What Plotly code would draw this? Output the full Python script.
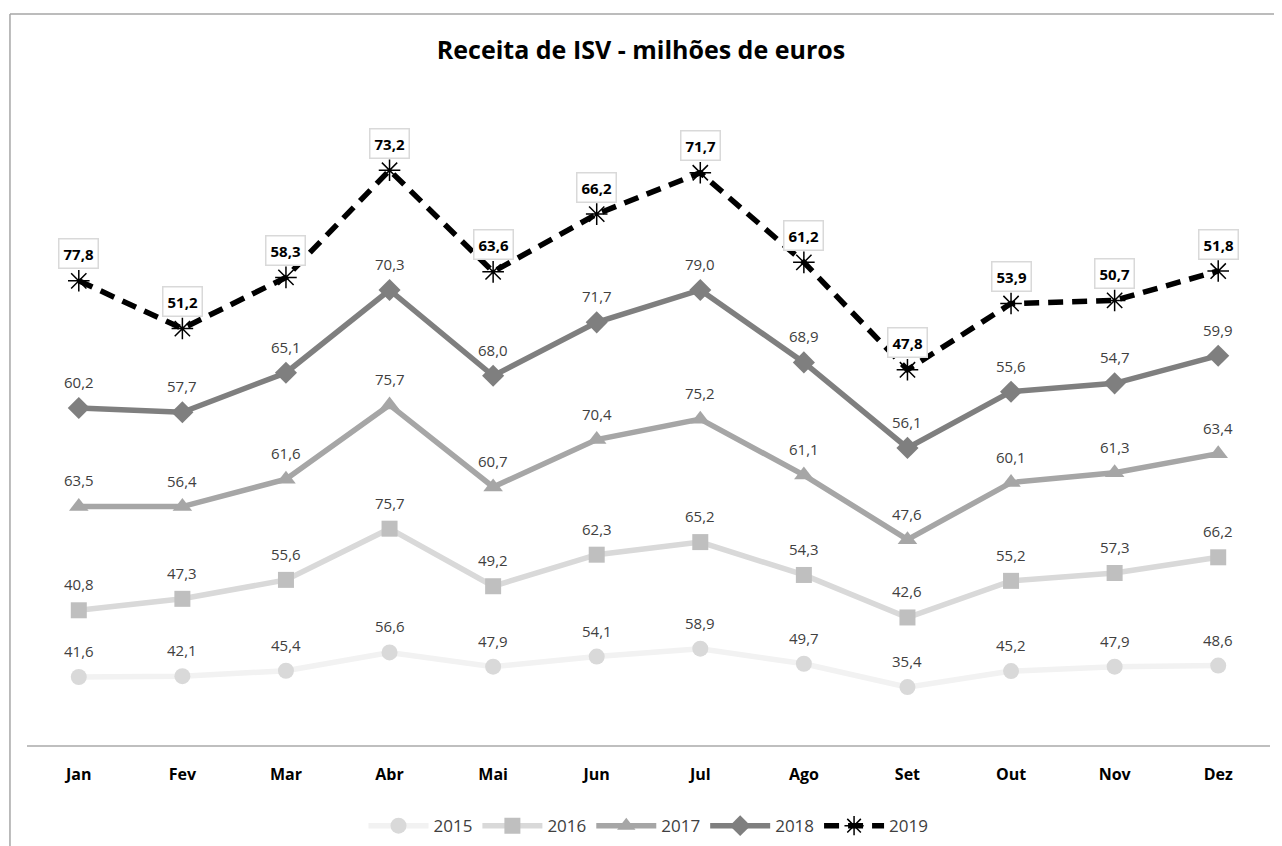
import numpy as np
import plotly.graph_objects as go

months = ["Jan", "Fev", "Mar", "Abr", "Mai", "Jun", "Jul", "Ago", "Set", "Out", "Nov", "Dez"]
v2015 = [41.6, 42.1, 45.4, 56.6, 47.9, 54.1, 58.9, 49.7, 35.4, 45.2, 47.9, 48.6]
v2016 = [40.8, 47.3, 55.6, 75.7, 49.2, 62.3, 65.2, 54.3, 42.6, 55.2, 57.3, 66.2]
v2017 = [63.5, 56.4, 61.6, 75.7, 60.7, 70.4, 75.2, 61.1, 47.6, 60.1, 61.3, 63.4]
v2018 = [60.2, 57.7, 65.1, 70.3, 68.0, 71.7, 79.0, 68.9, 56.1, 55.6, 54.7, 59.9]
v2019 = [77.8, 51.2, 58.3, 73.2, 63.6, 66.2, 71.7, 61.2, 47.8, 53.9, 50.7, 51.8]

series = [
    ("2015", v2015, dict(color="#f2f2f2", width=5.5), dict(symbol="circle", size=16, color="#d9d9d9")),
    ("2016", v2016, dict(color="#d9d9d9", width=5.5), dict(symbol="square", size=16, color="#bfbfbf")),
    ("2017", v2017, dict(color="#a6a6a6", width=5.5), dict(symbol="triangle-up", size=17, color="#a6a6a6")),
    ("2018", v2018, dict(color="#7f7f7f", width=5.5), dict(symbol="diamond", size=17, color="#7f7f7f")),
    ("2019", v2019, dict(color="#000000", width=5.5, dash="15px,9px"),
     dict(symbol="asterisk-open", size=18, color="#000000", line=dict(width=1.5, color="#000000"))),
]

FONT = "Open Sans, Noto Sans, sans-serif"
fmt = lambda v: f"{v:.1f}".replace(".", ",")

fig = go.Figure()
cum = np.zeros(len(months))
annotations = []
for name, vals, line, marker in series:
    fig.add_trace(go.Scatter(
        x=months, y=vals, name=name, mode="lines+markers",
        stackgroup="one", fill="none", line=line, marker=marker,
        hoverinfo="skip",
    ))
    cum = cum + np.array(vals)
    for m, c, v in zip(months, cum, vals):
        if name == "2019":
            annotations.append(dict(
                x=m, y=c, xref="x", yref="y", text=fmt(v), showarrow=False,
                yshift=27, font=dict(family=FONT, size=15, color="#000000", weight="bold"),
                bordercolor="#d9d9d9", borderwidth=1.5, borderpad=4, bgcolor="#ffffff",
            ))
        else:
            annotations.append(dict(
                x=m, y=c, xref="x", yref="y", text=fmt(v), showarrow=False,
                yshift=26, font=dict(family=FONT, size=15, color="#404040"),
            ))

fig.update_layout(
    width=1282, height=846,
    paper_bgcolor="white", plot_bgcolor="white",
    margin=dict(l=19, r=20, t=83, b=109, autoexpand=False),
    title=dict(text="Receita de ISV - milhões de euros", x=633 / 1282, xanchor="center",
               y=1 - 42 / 846, yanchor="middle",
               font=dict(family=FONT, size=25, color="#000000", weight="bold")),
    xaxis=dict(type="category", showgrid=False, showline=True, linecolor="#bfbfbf", linewidth=1.5,
               ticks="", tickfont=dict(family=FONT, size=16, color="#000000", weight="bold"),
               range=[-0.5, 11.5], fixedrange=True, ticklabelstandoff=14),
    yaxis=dict(range=[0, 400], visible=False, showgrid=False, zeroline=False),
    legend=dict(orientation="h", x=0.5, xanchor="center", y=-0.124, yanchor="middle",
                font=dict(family=FONT, size=17, color="#404040"), itemwidth=60,
                traceorder="normal"),
    showlegend=True,
    annotations=annotations,
    shapes=[
        dict(type="line", xref="paper", yref="paper", x0=-0.0137, x1=1.03, y0=1.1177, y1=1.1177,
             line=dict(color="#a6a6a6", width=1.5)),
        dict(type="line", xref="paper", yref="paper", x0=-0.0137, x1=-0.0137, y0=1.1177, y1=-0.25,
             line=dict(color="#a6a6a6", width=1.5)),
    ],
)

fig.write_html("out.html")
